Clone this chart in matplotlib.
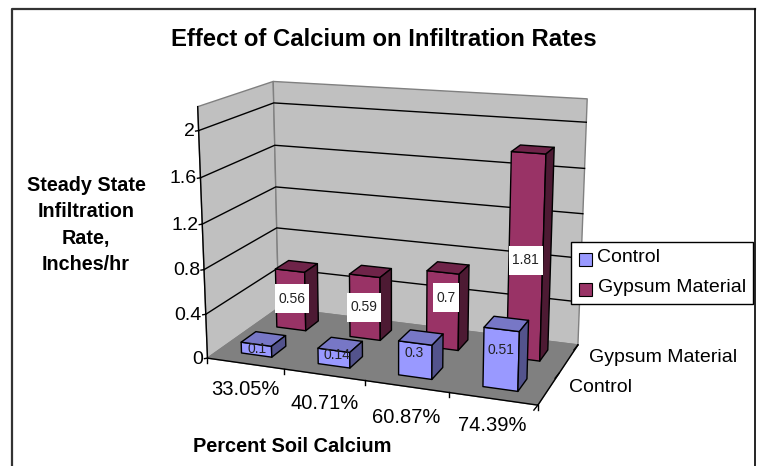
import numpy as np
import matplotlib
matplotlib.use('Agg')
import matplotlib.pyplot as plt
from matplotlib.patches import Polygon, Rectangle

plt.rcParams['font.family'] = ['Liberation Sans', 'DejaVu Sans']

categories = ['33.05%', '40.71%', '60.87%', '74.39%']
series_names = ['Control', 'Gypsum Material']
control = [0.1, 0.14, 0.3, 0.51]
gypsum = [0.56, 0.59, 0.7, 1.81]
y_ticks = [0, 0.4, 0.8, 1.2, 1.6, 2]
y_max = 2.2

W, H = 758, 466
GAP = 1.5

# box corners (cat, depth, height all 0..1) and where they land on the picture
box = [(0, 0, 0), (1, 0, 0), (1, 1, 0), (0, 1, 0), (0, 0, 1), (0, 1, 1), (1, 1, 1)]
pix = [(208, 357), (538, 406), (578, 344), (278, 309), (197, 107), (274, 81), (587, 99)]

# fit the camera matrix of the 3d view
A = []
for (u, v, w), (px, py) in zip(box, pix):
    A.append([u, v, w, 1, 0, 0, 0, 0, -px*u, -px*v, -px*w, -px])
    A.append([0, 0, 0, 0, u, v, w, 1, -py*u, -py*v, -py*w, -py])
cam = np.linalg.svd(np.array(A, float))[2][-1].reshape(3, 4)


def proj(u, v, val):
    p = cam @ np.array([u, v, val / y_max, 1.0])
    return p[0] / p[2], p[1] / p[2]


fig = plt.figure(figsize=(W / 100, H / 100), dpi=100)
ax = fig.add_axes([0, 0, 1, 1])
ax.set_xlim(0, W)
ax.set_ylim(H, 0)
ax.axis('off')


def quad(pts, fc, ec='k', lw=1.0, z=2):
    ax.add_patch(Polygon([proj(*p) for p in pts], closed=True, fc=fc, ec=ec, lw=lw, zorder=z, joinstyle='round'))


# chart frame, open at the bottom
ax.plot([12, 12, 755], [H, 9, 9], color='#333333', lw=1.6, zorder=1)
ax.plot([755, 755], [9, H], color='k', lw=1.2, zorder=1)

# walls and floor
quad([(0, 0, 0), (0, 1, 0), (0, 1, y_max), (0, 0, y_max)], '#c0c0c0', '#808080')
quad([(0, 1, 0), (1, 1, 0), (1, 1, y_max), (0, 1, y_max)], '#c0c0c0', '#808080')
quad([(0, 0, 0), (1, 0, 0), (1, 1, 0), (0, 1, 0)], '#808080', '#808080')

# gridlines run along the side wall and the back wall
for t in y_ticks:
    x0, y0 = proj(0, 0, t)
    x1, y1 = proj(0, 1, t)
    x2, y2 = proj(1, 1, t)
    if t > 0:
        ax.plot([x0, x1, x2], [y0, y1, y2], color='k', lw=1.0, zorder=3)
    ax.plot([x0 - 3, x0], [y0 + 0.5, y0], color='k', lw=1.0, zorder=3)
    ax.text(x0 - 4, y0 + 1, '%g' % t, ha='right', va='center', fontsize=14, color='k', zorder=6)

# axes edges and tick marks
xa0, ya0 = proj(0, 0, 0)
xa1, ya1 = proj(0, 0, y_max)
ax.plot([xa0, xa1], [ya0, ya1], color='k', lw=1.0, zorder=3)
ax.plot(*zip(proj(0, 0, 0), proj(1, 0, 0)), color='k', lw=1.0, zorder=5)
ax.plot(*zip(proj(1, 0, 0), proj(1, 1, 0)), color='k', lw=1.0, zorder=5)

n = len(categories)
for i in range(n + 1):
    x, y = proj(i / n, 0, 0)
    ax.plot([x, x], [y, y + 5], color='k', lw=1.0, zorder=3)
for j in range(3):
    x, y = proj(1, j / 2, 0)
    ax.plot([x, x - 4], [y, y + 5], color='k', lw=1.0, zorder=3)

# nudges so the labels sit where the picture has them
cat_dx = [0, 1, 0, -1]
cat_dy = [26, 29, 31, 27]
for i, c in enumerate(categories):
    x, y = proj((i + 0.5) / n, 0, 0)
    ax.text(x + cat_dx[i], y + cat_dy[i], c, ha='center', va='center', fontsize=14.5, zorder=6)
for j, s in enumerate(series_names):
    x, y = proj(1, (j + 0.5) / 2, 0)
    ax.text(x + 20, y - 1, s, ha='left', va='center', fontsize=14, zorder=6)

colors = {
    0: ('#9999ff', '#7777c6', '#53538c'),
    1: ('#993366', '#6f2449', '#4d1a33'),
}
bar_w = 1 / (1 + GAP)


def draw_bar(i, j, val, z):
    front, top, side = colors[j]
    u0 = (i + 0.5 - bar_w / 2) / n
    u1 = (i + 0.5 + bar_w / 2) / n
    v0 = (j + 0.5 - bar_w / 2) / 2
    v1 = (j + 0.5 + bar_w / 2) / 2
    quad([(u0, v0, 0), (u1, v0, 0), (u1, v0, val), (u0, v0, val)], front, z=z)
    quad([(u0, v0, val), (u1, v0, val), (u1, v1, val), (u0, v1, val)], top, z=z)
    quad([(u1, v0, 0), (u1, v1, 0), (u1, v1, val), (u1, v0, val)], side, z=z)
    return (u0 + u1) / 2, v0


gyp_dx = [1, -1, 3, 0]
gyp_dy = [-1, 0, -13, 2]
ctl_dx = [1, 3, -1, 0]
ctl_dy = [-1, -3, -7, -9]
renderer = fig.canvas.get_renderer()

for i, val in enumerate(gypsum):
    u, v = draw_bar(i, 1, val, 4)
    x, y = proj(u, v, val / 2)
    x, y = x + gyp_dx[i], y + gyp_dy[i]
    txt = ax.text(x, y, str(val), ha='center', va='center', fontsize=10, color='#222222', zorder=8)
    bw = txt.get_window_extent(renderer).width + 7
    ax.add_patch(Rectangle((x - bw / 2, y - 14.5), bw, 29, fc='white', ec='none', zorder=7))
for i, val in enumerate(control):
    u, v = draw_bar(i, 0, val, 5)
    x, y = proj(u, v, val / 2)
    ax.text(x + ctl_dx[i], y + ctl_dy[i], str(val), ha='center', va='center', fontsize=10,
            color='#222222', zorder=8)

# titles
ax.text(383.5, 39, 'Effect of Calcium on Infiltration Rates', ha='center', va='center',
        fontsize=17.2, fontweight='bold')
ax.text(86, 225, 'Steady State\nInfiltration\nRate,\nInches/hr', ha='center', va='center',
        fontsize=14.2, fontweight='bold', linespacing=1.5)
ax.text(292, 447, 'Percent Soil Calcium', ha='center', va='center', fontsize=14.4, fontweight='bold')

# legend
ax.add_patch(Rectangle((571, 242), 182, 62, fc='white', ec='k', lw=1.0, zorder=7))
for j, s in enumerate(series_names):
    y = 259 + j * 30
    ax.add_patch(Rectangle((579, y - 6.5), 12.5, 13, fc=colors[j][0], ec='k', lw=0.8, zorder=8))
    ax.text(597.5, y - 1, s, ha='left', va='center', fontsize=14, zorder=8)

fig.savefig('out.png', dpi=100)
